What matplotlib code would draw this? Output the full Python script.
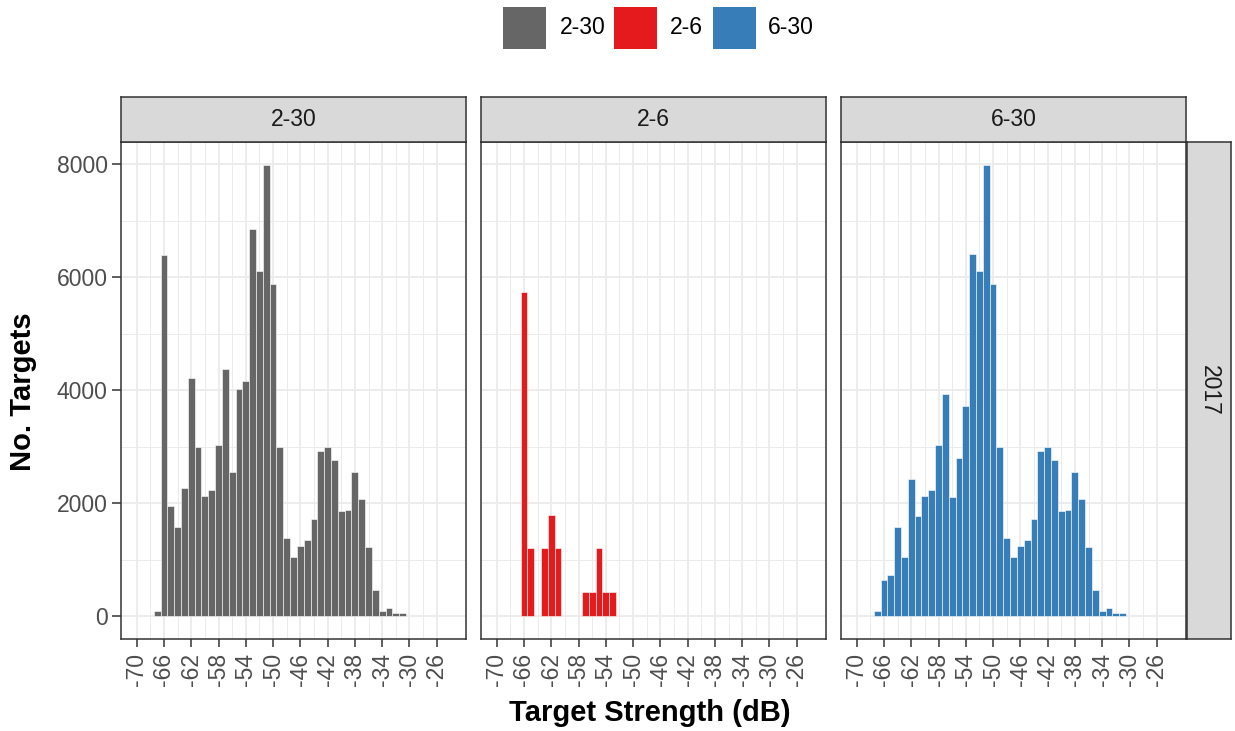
import matplotlib
matplotlib.use("Agg")
import matplotlib.pyplot as plt
from matplotlib.patches import Rectangle

plt.rcParams['font.family'] = ['Liberation Sans', 'DejaVu Sans']

# Target strength bins (dB, bin centres, 1 dB wide)
ts_all = list(range(-67, -30))
counts_all = [89, 6400, 1948, 1576, 2273, 4227, 2999, 2137, 2243, 3028,
              4380, 2558, 4022, 4168, 6854, 6122, 7993, 5886, 3005, 1387,
              1057, 1246, 1352, 1724, 2922, 3005, 2769, 1860, 1883, 2556,
              2072, 1234, 472, 89, 142, 59, 59]

ts_small = [-66, -65, -63, -62, -61, -57, -56, -55, -54, -53]
counts_small = [5750, 1216, 1216, 1789, 1216, 437, 437, 1216, 437, 437]

ts_large = list(range(-67, -30))
counts_large = [89, 650, 732, 1576, 1057, 2438, 1783, 2137, 2243, 3028,
                3943, 2121, 2806, 3731, 6417, 6122, 7993, 5886, 3005, 1387,
                1057, 1246, 1352, 1724, 2922, 3005, 2769, 1860, 1883, 2556,
                2072, 1234, 472, 89, 142, 59, 59]

facet_labels = ['2-30', '2-6', '6-30']
facet_colors = ['#666666', '#E41A1C', '#377EB8']
row_label = '2017'

x_ticks = list(range(-70, -25, 4))
x_minor = list(range(-68, -25, 4))
y_ticks = [0, 2000, 4000, 6000, 8000]
y_minor = [1000, 3000, 5000, 7000]

W, H = 1235, 731
fig = plt.figure(figsize=(W / 100, H / 100), dpi=100)
fig.patch.set_facecolor('white')


def px_axes(x0, y0, x1, y1):
    return fig.add_axes([x0 / W, 1 - y1 / H, (x1 - x0) / W, (y1 - y0) / H])


panel_x = [(121, 466), (481, 826), (841, 1186)]
panel_top, panel_bottom = 142.3, 639
strip_top = 96.7

border_col = '#333333'
grid_col = '#EBEBEB'
tick_fs = 16.5
title_fs = 21

data = [(ts_all, counts_all), (ts_small, counts_small), (ts_large, counts_large)]

for i, ((x0, x1), (xs, ys), lab, col) in enumerate(zip(panel_x, data, facet_labels, facet_colors)):
    ax = px_axes(x0, panel_top, x1, panel_bottom)
    ax.set_xlim(-72.3, -21.7)
    ax.set_ylim(-400, 8393)
    for v in x_minor:
        ax.axvline(v, color=grid_col, lw=0.7, zorder=0)
    for v in y_minor:
        ax.axhline(v, color=grid_col, lw=0.7, zorder=0)
    for v in x_ticks:
        ax.axvline(v, color=grid_col, lw=1.3, zorder=0)
    for v in y_ticks:
        ax.axhline(v, color=grid_col, lw=1.3, zorder=0)
    ax.bar(xs, ys, width=1.0, color=col, edgecolor='white', linewidth=0.4, zorder=2)

    ax.set_xticks(x_ticks)
    ax.set_xticklabels([str(t) for t in x_ticks], rotation=90, va='top', ha='center')
    ax.tick_params(axis='x', length=6, width=1.1, color=border_col, labelsize=tick_fs,
                   labelcolor='#4D4D4D', pad=4)
    if i == 0:
        ax.set_yticks(y_ticks)
        ax.tick_params(axis='y', length=6.5, width=1.1, color=border_col, labelsize=tick_fs,
                       labelcolor='#4D4D4D', pad=3)
    else:
        ax.set_yticks([])
    for s in ax.spines.values():
        s.set_color(border_col)
        s.set_linewidth(1.1)
        s.set_zorder(5)

    # facet strip
    sax = px_axes(x0, strip_top, x1, panel_top)
    sax.set_facecolor('#D9D9D9')
    sax.set_xticks([])
    sax.set_yticks([])
    for s in sax.spines.values():
        s.set_color(border_col)
        s.set_linewidth(1.1)
    sax.text(0.5, 0.5, lab, ha='center', va='center', fontsize=tick_fs, color='#1A1A1A',
             transform=sax.transAxes)

# row strip
rax = px_axes(1187, panel_top, 1231, panel_bottom)
rax.set_facecolor('#D9D9D9')
rax.set_xticks([])
rax.set_yticks([])
for s in rax.spines.values():
    s.set_color(border_col)
    s.set_linewidth(1.1)
rax.text(0.5, 0.5, row_label, ha='center', va='center', rotation=-90, fontsize=tick_fs,
         color='#1A1A1A', transform=rax.transAxes)

# axis titles
fig.text(23 / W, 1 - 392 / H, 'No. Targets', rotation=90, ha='center', va='center',
         fontsize=title_fs, fontweight='bold', color='black')
fig.text(650 / W, 1 - 713 / H, 'Target Strength (dB)', ha='center', va='center',
         fontsize=title_fs, fontweight='bold', color='black')

# legend
key_x = [503, 614, 713]
text_x = [560, 670, 768]
key_top, key_bot = 7, 49
for kx, tx, lab, col in zip(key_x, text_x, facet_labels, facet_colors):
    fig.patches.append(Rectangle((kx / W, 1 - key_bot / H), 43 / W, (key_bot - key_top) / H,
                                 transform=fig.transFigure, facecolor=col, edgecolor='none'))
    fig.text(tx / W, 1 - 28 / H, lab, ha='left', va='center', fontsize=tick_fs, color='black')

fig.savefig('out.png', dpi=100, facecolor='white')
